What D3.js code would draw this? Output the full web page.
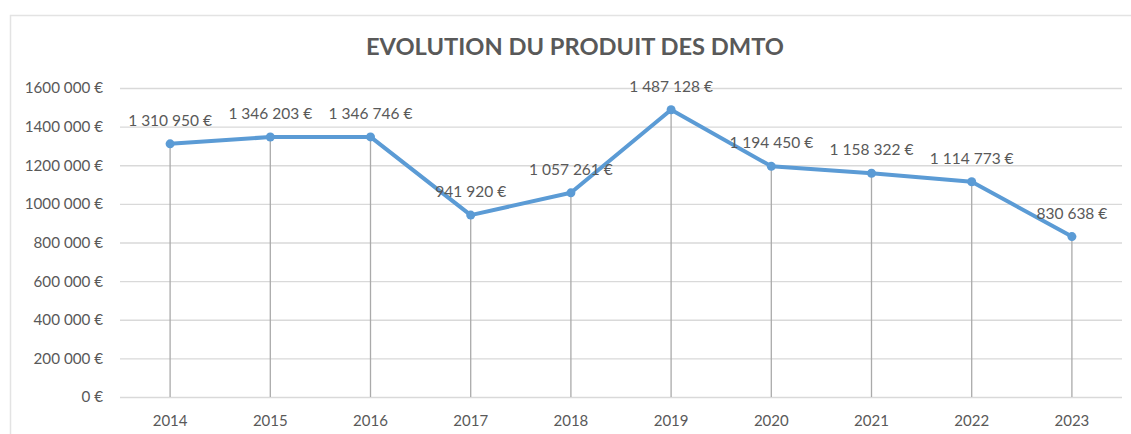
<!DOCTYPE html>
<html>
<head>
<meta charset="utf-8">
<script src="https://cdn.jsdelivr.net/npm/d3@7"></script>
<style>
  body { margin: 0; background: #fff; }
  text { font-family: Lato, "Open Sans", sans-serif; fill: #595959; }
</style>
</head>
<body>
<div id="chart"></div>
<script>
// ===========Data
var years = ["2014", "2015", "2016", "2017", "2018", "2019", "2020", "2021", "2022", "2023"];
var produit = [1310950, 1346203, 1346746, 941920, 1057261, 1487128, 1194450, 1158322, 1114773, 830638];
var yTicks = [0, 200000, 400000, 600000, 800000, 1000000, 1200000, 1400000, 1600000];
var chartTitle = "EVOLUTION DU PRODUIT DES DMTO";

// ===========Set Height, Width and Margins
var svgWidth = 1131;
var svgHeight = 434;
var margin = { top: 88, right: 9, bottom: 37, left: 120 };
var width = svgWidth - margin.left - margin.right;
var height = svgHeight - margin.top - margin.bottom;

// french number format : 1 310 950 €
var fr = d3.formatLocale({ decimal: ",", thousands: " ", grouping: [3], currency: ["", " €"] });
function euro(v) {
  return fr.format(",")(v) + " €";
}
function euroTick(v) {
  // excel axis: 1600 000 € (no space in the millions group)
  var s = fr.format(",")(v);
  if (v >= 1000000) s = s.replace(" ", "");
  return s + " €";
}

var svg = d3.select("#chart").append("svg")
  .attr("width", svgWidth)
  .attr("height", svgHeight);

// chart frame (top + left border)
svg.append("path")
  .attr("d", "M10.5," + svgHeight + "V15.5H" + svgWidth)
  .attr("fill", "none")
  .attr("stroke", "#e3e3e3")
  .attr("stroke-width", 1.5);

svg.append("text")
  .attr("x", 575)
  .attr("y", 55)
  .attr("text-anchor", "middle")
  .attr("font-size", "23.7px")
  .attr("font-weight", "bold")
  .text(chartTitle);

var chartGroup = svg.append("g")
  .attr("transform", `translate(${margin.left}, ${margin.top})`);

// ===========Scales
var xBandScale = d3.scaleBand()
  .domain(years)
  .range([0, width]);

var yLinearScale = d3.scaleLinear()
  .domain([0, 1600000])
  .range([height, 0]);

var xc = d => xBandScale(d) + xBandScale.bandwidth() / 2;

// ===========Gridlines / y axis
var leftAxis = d3.axisLeft(yLinearScale)
  .tickValues(yTicks)
  .tickSize(-width)
  .tickPadding(17)
  .tickFormat(euroTick);

var yAxis = chartGroup.append("g").call(leftAxis);
yAxis.select(".domain").remove();
yAxis.selectAll("line").attr("stroke", "#d9d9d9").attr("stroke-width", 1.3);
yAxis.selectAll("text").attr("font-size", "15.2px").attr("fill", "#595959");

// ===========x axis
var bottomAxis = d3.axisBottom(xBandScale)
  .tickSize(0)
  .tickPadding(18);

var xAxis = chartGroup.append("g")
  .attr("transform", `translate(0, ${height})`)
  .call(bottomAxis);
xAxis.select(".domain").remove();
xAxis.selectAll("text").attr("font-size", "15px").attr("fill", "#595959");

// ===========Drop lines
chartGroup.selectAll(".drop")
  .data(years)
  .enter()
  .append("line")
  .attr("class", "drop")
  .attr("x1", d => xc(d))
  .attr("x2", d => xc(d))
  .attr("y1", (d, i) => yLinearScale(produit[i]))
  .attr("y2", height)
  .attr("stroke", "#aaaaaa")
  .attr("stroke-width", 1.3);

// ===========Line
var line = d3.line()
  .x((d, i) => xc(years[i]))
  .y(d => yLinearScale(d));

chartGroup.append("path")
  .datum(produit)
  .attr("d", line)
  .attr("fill", "none")
  .attr("stroke", "#5b9bd5")
  .attr("stroke-width", 4)
  .attr("stroke-linejoin", "round");

chartGroup.selectAll(".dot")
  .data(produit)
  .enter()
  .append("circle")
  .attr("class", "dot")
  .attr("cx", (d, i) => xc(years[i]))
  .attr("cy", d => yLinearScale(d))
  .attr("r", 4.5)
  .attr("fill", "#5b9bd5");

// ===========Data labels
chartGroup.selectAll(".lbl")
  .data(produit)
  .enter()
  .append("text")
  .attr("class", "lbl")
  .attr("x", (d, i) => xc(years[i]))
  .attr("y", d => yLinearScale(d) - 18)
  .attr("text-anchor", "middle")
  .attr("font-size", "15.5px")
  .text(d => euro(d));
</script>
</body>
</html>
